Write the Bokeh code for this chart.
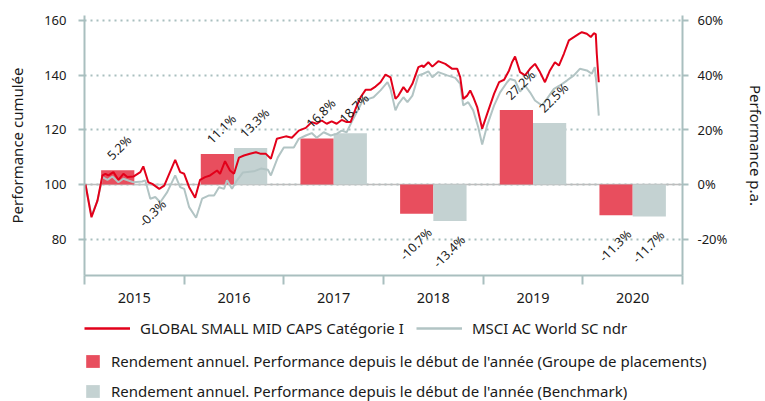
import numpy as np
from bokeh.plotting import figure
from bokeh.models import (Range1d, LinearAxis, FixedTicker, PrintfTickFormatter, Span,
                          Legend, LegendItem, CustomJSTickFormatter)
from bokeh.core.properties import value
from bokeh.embed import file_html
from bokeh.resources import INLINE

# ---------------- data ----------------
years = [2015, 2016, 2017, 2018, 2019, 2020]
year_labels = ["2015", "2016", "2017", "2018", "2019", "2020"]
fund_annual = [5.2, 11.1, 16.8, -10.7, 27.2, -11.3]
bench_annual = [-0.3, 13.3, 18.7, -13.4, 22.5, -11.7]

fund_name = "GLOBAL SMALL MID CAPS Catégorie I"
bench_name = "MSCI AC World SC ndr"
bar_fund_name = "Rendement annuel. Performance depuis le début de l'année (Groupe de placements)"
bar_bench_name = "Rendement annuel. Performance depuis le début de l'année (Benchmark)"

left_ticks = [80, 100, 120, 140, 160]
right_ticks = [-20, 0, 20, 40, 60]

fund_t = [2015.01, 2015.07, 2015.13, 2015.18, 2015.21, 2015.24, 2015.29, 2015.34, 2015.39, 2015.43,
          2015.49, 2015.56, 2015.59, 2015.64, 2015.68, 2015.75, 2015.80, 2015.85, 2015.91, 2015.96,
          2016.00, 2016.05, 2016.11, 2016.16, 2016.21, 2016.26, 2016.33, 2016.36, 2016.41, 2016.46,
          2016.50, 2016.55, 2016.60, 2016.66, 2016.72, 2016.77, 2016.82, 2016.87, 2016.93, 2017.02,
          2017.08, 2017.15, 2017.22, 2017.28, 2017.33, 2017.38, 2017.43, 2017.48, 2017.53, 2017.58,
          2017.63, 2017.67, 2017.72, 2017.77, 2017.82, 2017.87, 2017.92, 2017.97, 2018.02, 2018.07,
          2018.12, 2018.15, 2018.20, 2018.24, 2018.29, 2018.35, 2018.39, 2018.40, 2018.45, 2018.49,
          2018.55, 2018.62, 2018.69, 2018.74, 2018.77, 2018.80, 2018.84, 2018.87, 2018.90, 2018.94,
          2018.99, 2019.04, 2019.11, 2019.16, 2019.21, 2019.26, 2019.29, 2019.32, 2019.37, 2019.42,
          2019.47, 2019.52, 2019.57, 2019.62, 2019.67, 2019.72, 2019.76, 2019.81, 2019.86, 2019.91,
          2019.96, 2019.99, 2020.04, 2020.08, 2020.11, 2020.13, 2020.14, 2020.16]
fund_v = [100.0, 88.0, 94.1, 103.3, 103.9, 103.3, 104.5, 101.7, 103.9, 102.7,
          102.9, 104.5, 106.6, 100.8, 100.2, 98.4, 99.6, 103.9, 109.0, 104.5,
          103.9, 99.0, 95.1, 101.7, 102.7, 103.3, 105.1, 103.9, 108.5, 105.1,
          103.9, 109.8, 110.6, 111.2, 111.8, 111.2, 111.2, 109.4, 116.7, 117.6,
          117.1, 119.7, 120.7, 122.8, 122.2, 123.4, 122.2, 123.1, 122.2, 123.6,
          122.8, 122.8, 127.7, 131.9, 134.6, 134.6, 135.8, 137.4, 140.2, 139.2,
          131.3, 132.5, 135.6, 133.7, 136.8, 142.9, 143.5, 142.9, 144.7, 143.1,
          145.1, 144.1, 142.3, 142.3, 139.2, 131.3, 132.5, 134.4, 132.0, 128.3,
          120.4, 125.8, 133.2, 137.4, 138.3, 141.7, 144.7, 146.8, 141.1, 139.9,
          142.3, 144.1, 141.1, 137.4, 141.7, 144.7, 143.5, 147.8, 152.7, 153.9,
          155.1, 155.7, 155.1, 153.9, 155.3, 155.0, 147.8, 137.4]

bench_t = [2015.01, 2015.07, 2015.13, 2015.18, 2015.23, 2015.28, 2015.34, 2015.39, 2015.49, 2015.58,
           2015.61, 2015.66, 2015.71, 2015.76, 2015.83, 2015.91, 2015.96, 2016.00, 2016.05, 2016.12,
           2016.18, 2016.25, 2016.30, 2016.35, 2016.40, 2016.43, 2016.48, 2016.53, 2016.59, 2016.70,
           2016.77, 2016.84, 2016.87, 2016.94, 2017.00, 2017.10, 2017.15, 2017.22, 2017.28, 2017.33,
           2017.40, 2017.47, 2017.53, 2017.58, 2017.63, 2017.68, 2017.75, 2017.80, 2017.85, 2017.90,
           2017.97, 2018.04, 2018.07, 2018.12, 2018.15, 2018.20, 2018.24, 2018.29, 2018.35, 2018.40,
           2018.45, 2018.49, 2018.55, 2018.64, 2018.72, 2018.77, 2018.80, 2018.85, 2018.90, 2018.95,
           2018.99, 2019.04, 2019.11, 2019.17, 2019.24, 2019.27, 2019.32, 2019.37, 2019.42, 2019.47,
           2019.52, 2019.59, 2019.64, 2019.71, 2019.77, 2019.84, 2019.91, 2019.97, 2020.04, 2020.09,
           2020.12, 2020.14, 2020.16]
bench_v = [100.0, 88.5, 94.0, 102.7, 101.7, 102.9, 100.8, 102.1, 100.8, 101.1,
           101.5, 94.8, 95.4, 93.5, 97.2, 103.3, 99.0, 98.4, 91.7, 87.8,
           94.8, 96.0, 96.0, 99.0, 98.4, 101.5, 98.4, 101.5, 104.4, 104.8,
           105.8, 105.4, 103.3, 109.9, 113.5, 113.5, 116.7, 117.9, 118.8, 117.1,
           119.1, 117.9, 118.5, 119.7, 119.1, 122.8, 127.7, 131.3, 131.3, 131.9,
           134.4, 137.4, 135.0, 127.1, 129.5, 131.9, 130.1, 132.5, 139.9, 140.5,
           141.4, 139.2, 141.1, 139.9, 139.0, 136.8, 128.9, 130.1, 127.1, 121.0,
           114.6, 121.6, 128.9, 133.7, 137.4, 138.6, 138.0, 134.0, 136.2, 133.7,
           130.7, 128.9, 131.3, 135.0, 136.2, 138.0, 139.9, 142.3, 141.7, 140.5,
           142.9, 135.6, 125.2]

# ---------------- style ----------------
FONT = "Noto Sans"
AX = "#a9bfbf"
RED_LINE = "#e2001a"
GREY_LINE = "#b2c4c4"
RED_BAR = "#e84e5e"
GREY_BAR = "#c4d2d2"
TXT = "#1a1a1a"

p = figure(frame_width=598, frame_height=260, output_backend="svg", toolbar_location=None,
           x_range=Range1d(2015, 2021), y_range=Range1d(66.7, 161.8),
           min_border_left=84, min_border_right=83, min_border_top=15, min_border_bottom=37,
           outline_line_color=None, background_fill_color="white")
p.extra_y_ranges = {"pct": Range1d(-33.3, 61.8)}

# grid
p.xgrid.visible = False
p.ygrid.ticker = FixedTicker(ticks=left_ticks)
p.ygrid.grid_line_color = AX
p.ygrid.grid_line_width = 2
p.ygrid.grid_line_dash = "2 4"

zero = Span(location=100, dimension="width", line_color="#bdbdbd", line_width=1.5, level="underlay")
p.add_layout(zero)

# left axis
ya = p.yaxis[0]
ya.ticker = FixedTicker(ticks=left_ticks)
ya.axis_label = "Performance cumulée"

# x axis
mid = [y + 0.5 for y in years]
xa = p.xaxis[0]
xa.ticker = FixedTicker(ticks=mid, minor_ticks=years + [years[-1] + 1])
xa.formatter = CustomJSTickFormatter(args=dict(mids=mid, labs=year_labels),
                                     code="const i = mids.indexOf(tick); return i >= 0 ? labs[i] : '';")
xa.major_tick_out = 0
xa.major_tick_in = 0
xa.minor_tick_out = 9
xa.minor_tick_in = 0
xa.minor_tick_line_color = AX
xa.minor_tick_line_width = 2
xa.major_label_standoff = 8
xa.major_label_text_font_size = "14.5px"

# right axis
ra = LinearAxis(y_range_name="pct", ticker=FixedTicker(ticks=right_ticks),
                formatter=PrintfTickFormatter(format="%d%%"), axis_label="Performance p.a.")
p.add_layout(ra, "right")

for ax in [ya, ra]:
    ax.major_tick_out = 6
    ax.major_tick_in = 0
    ax.minor_tick_line_color = None
    ax.major_tick_line_color = AX
    ax.major_tick_line_width = 2
    ax.major_label_text_font_size = "13px"
    ax.axis_label_text_font_size = "15px"
    ax.axis_label_text_font_style = "normal"
ya.major_label_standoff = 12
ra.major_label_standoff = 9
ya.axis_label_standoff = 14
ra.axis_label_standoff = 16

for ax in [xa, ya, ra]:
    ax.axis_line_color = AX
    ax.axis_line_width = 2
    ax.major_label_text_font = FONT
    ax.axis_label_text_font = FONT
    ax.major_label_text_color = TXT
    ax.axis_label_text_color = TXT

# bars
third = 1.0 / 3.0
x_fund = [y + third for y in years]
x_bench = [y + 2 * third for y in years]
b1 = p.vbar(x=x_fund, top=fund_annual, bottom=0, width=third, y_range_name="pct",
            fill_color=RED_BAR, line_color=None)
b2 = p.vbar(x=x_bench, top=bench_annual, bottom=0, width=third, y_range_name="pct",
            fill_color=GREY_BAR, line_color=None)

# lines
l2 = p.line(bench_t, bench_v, line_color=GREY_LINE, line_width=2)
l1 = p.line(fund_t, fund_v, line_color=RED_LINE, line_width=2)

# bar labels
px_year = 598 / 6.0
px_unit = 260 / 95.1
lab_x = x_fund + x_bench
lab_v = fund_annual + bench_annual
pos = [(x, v) for x, v in zip(lab_x, lab_v) if v >= 0]
neg = [(x, v) for x, v in zip(lab_x, lab_v) if v < 0]
p.text(x=[x - 8.4 / px_year for x, v in pos], y=[v + 12.6 / px_unit for x, v in pos],
       text=[f"{v:.1f}%" for x, v in pos], angle=np.pi / 4, y_range_name="pct",
       text_align="left", text_baseline="middle", text_font=value(FONT),
       text_font_size="12.5px", text_color=TXT)
p.text(x=[x + 13 / px_year for x, v in neg], y=[v - 16.6 / px_unit for x, v in neg],
       text=[f"{v:.1f}%" for x, v in neg], angle=np.pi / 4, y_range_name="pct",
       text_align="right", text_baseline="middle", text_font=value(FONT),
       text_font_size="12.5px", text_color=TXT)

# ---------------- legend panel (separate figure, stacked by the page flow) ----------------
lf = figure(width=765, height=89, output_backend="svg", toolbar_location=None,
            x_range=Range1d(0, 1), y_range=Range1d(0, 1),
            min_border_left=0, min_border_right=0, min_border_top=0, min_border_bottom=0,
            outline_line_color=None)
lf.axis.visible = False
lf.grid.visible = False
# legend-only renderers, kept outside the visible range
d1 = lf.line([5, 6], [5, 6], line_color=RED_LINE, line_width=2.5)
d2 = lf.line([5, 6], [5, 6], line_color=GREY_LINE, line_width=2.5)
d3 = lf.vbar(x=[5], top=[5], width=0.1, fill_color=RED_BAR, line_color=None)
d4 = lf.vbar(x=[5], top=[5], width=0.1, fill_color=GREY_BAR, line_color=None)

def add_legend(items, loc, gw, gh, lw=None):
    kw = dict(label_width=lw) if lw else {}
    leg = Legend(items=items, location=loc,
                 orientation="horizontal", glyph_width=gw, glyph_height=gh, label_height=gh,
                 padding=0, margin=0, spacing=10, label_standoff=10,
                 border_line_color=None, background_fill_alpha=0,
                 label_text_font=FONT, label_text_font_size="15px", label_text_color=TXT, **kw)
    lf.add_layout(leg, "center")

add_legend([LegendItem(label=fund_name, renderers=[d1]),
            LegendItem(label=bench_name, renderers=[d2])], (84, 63), 46, 16, 266)
add_legend([LegendItem(label=bar_fund_name, renderers=[d3])], (84, 30), 17, 16)
add_legend([LegendItem(label=bar_bench_name, renderers=[d4])], (84, 0), 17, 16)

open("out.html", "w").write(file_html([p, lf], INLINE))
